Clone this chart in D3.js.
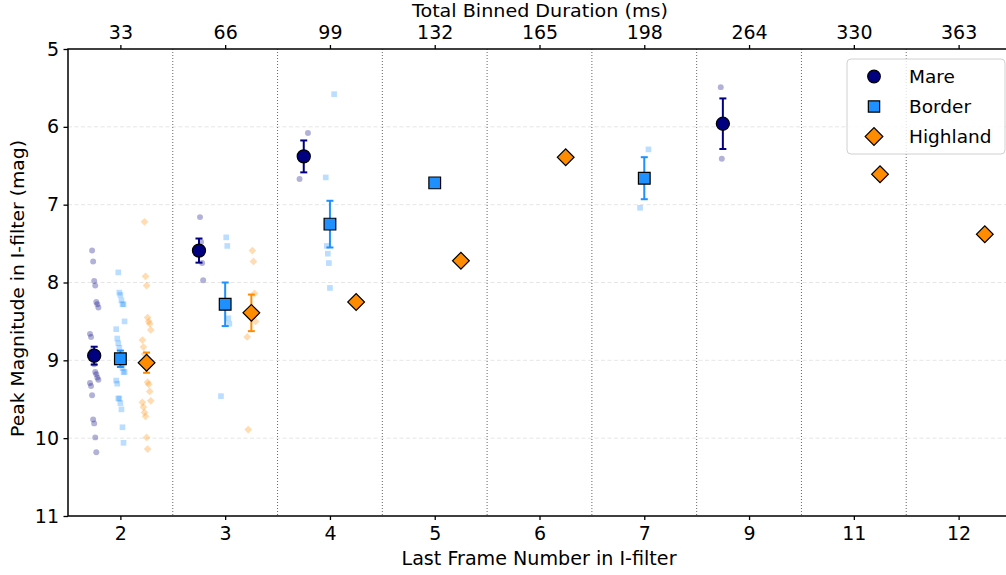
<!DOCTYPE html>
<html><head><meta charset="utf-8">
<script src="https://cdn.jsdelivr.net/npm/d3@7"></script>
<style>body{margin:0;background:#fff}svg{display:block}text{font-family:"DejaVu Sans",sans-serif}</style>
</head><body>
<svg id="c" width="1006" height="575"></svg>
<script>
const categories = ["2","3","4","5","6","7","9","11","12"];
const topLabels = ["33","66","99","132","165","198","264","330","363"];
const yTicks = [5,6,7,8,9,10,11];

const mareMean = [8.94, 7.59, 6.38, null, null, null, 5.96, null, null];
const mareErr  = [0.115, 0.155, 0.205, null, null, null, 0.325, null, null];
const borderMean = [8.98, 8.28, 7.25, 6.72, null, 6.66, null, null, null];
const borderErr  = [0.105, 0.28, 0.30, 0, null, 0.27, null, null, null];
const highlandMean = [9.03, 8.39, 8.25, 7.72, 6.39, null, null, 6.61, 7.38];
const highlandErr  = [0.13, 0.235, 0, 0, 0, null, null, 0, 0];

const mareObs = [
  [7.59,7.73,7.98,8.04,8.25,8.28,8.32,8.66,8.70,8.88,8.95,9.05,9.15,9.18,9.22,9.25,9.29,9.33,9.45,9.76,9.81,9.99,10.18],
  [7.16,7.48,7.75,7.97],
  [6.08,6.67],
  [],[],[],
  [5.49,6.41],
  [],[]
];
const borderObs = [
  [7.87,8.13,8.16,8.23,8.28,8.28,8.50,8.60,8.72,8.78,8.84,8.95,9.05,9.10,9.15,9.15,9.26,9.30,9.49,9.49,9.55,9.63,9.86,10.06],
  [7.42,7.53,8.46,8.53,9.46],
  [5.58,6.65,7.53,7.63,7.75,8.07],
  [6.72],[],
  [6.29,7.04],
  [],[],[]
];
const highlandObs = [
  [7.22,7.92,8.04,8.45,8.50,8.53,8.61,8.74,8.83,8.92,9.00,9.10,9.28,9.31,9.40,9.52,9.54,9.60,9.67,9.72,9.99,10.14],
  [7.59,7.73,8.14,8.50,8.70,9.89],
  [8.25],[7.72],[6.39],[],[],[6.61],[7.38]
];

const svg = d3.select("#c");
const L = 68, R = 1011, T = 49, B = 516;
const x = d3.scaleLinear().domain([-0.5, 8.5]).range([L, R]);
const y = d3.scaleLinear().domain([5, 11]).range([T, B]);

// grids
const g = svg.append("g");
g.selectAll(".hg").data([6,7,8,9,10]).enter().append("line")
  .attr("x1", L).attr("x2", R).attr("y1", d=>y(d)).attr("y2", d=>y(d))
  .attr("stroke", "#e0e0e0").attr("stroke-width", 0.8).attr("stroke-dasharray", "4,2.5");
g.selectAll(".vg").data(d3.range(8)).enter().append("line")
  .attr("x1", d=>x(d+0.5)).attr("x2", d=>x(d+0.5)).attr("y1", T).attr("y2", B)
  .attr("stroke", "#666").attr("stroke-width", 1).attr("stroke-dasharray", "1,2");

const series = [
  {name:"Mare", color:"#000080", off:-0.25, mean:mareMean, err:mareErr, obs:mareObs, shape:d3.symbolCircle, size:135, osize:28, lsize:125},
  {name:"Border", color:"#1E90FF", off:0, mean:borderMean, err:borderErr, obs:borderObs, shape:d3.symbolSquare, size:137, osize:32, lsize:128},
  {name:"Highland", color:"#FF8C00", off:0.25, mean:highlandMean, err:highlandErr, obs:highlandObs, shape:d3.symbolSquare, size:140, osize:30, lsize:156}
];
function jit(i){ return (((i*37+11)%9) - 4) / 100; }

// observations
series.forEach(s=>{
  const isD = s.name==="Highland";
  s.obs.forEach((arr,ci)=>{
    arr.forEach((v,i)=>{
      const cx = x(ci + s.off + jit(i+ci*3)), cy = y(v);
      svg.append("path").attr("d", d3.symbol().type(s.shape).size(s.osize)())
        .attr("transform", `translate(${cx},${cy})` + (isD?" rotate(45)":""))
        .attr("fill", s.color).attr("opacity", 0.3);
    });
  });
});
// error bars + means
series.forEach(s=>{
  const isD = s.name==="Highland";
  s.mean.forEach((m,ci)=>{
    if (m===null) return;
    const cx = x(ci + s.off), e = s.err[ci];
    if (e>0){
      const eg = svg.append("g").attr("stroke", s.color).attr("stroke-width", 2);
      eg.append("line").attr("x1",cx).attr("x2",cx).attr("y1",y(m-e)).attr("y2",y(m+e));
      eg.append("line").attr("x1",cx-3.5).attr("x2",cx+3.5).attr("y1",y(m-e)).attr("y2",y(m-e));
      eg.append("line").attr("x1",cx-3.5).attr("x2",cx+3.5).attr("y1",y(m+e)).attr("y2",y(m+e));
    }
    svg.append("path").attr("d", d3.symbol().type(s.shape).size(s.size)())
      .attr("transform", `translate(${cx},${y(m)})` + (isD?" rotate(45)":""))
      .attr("fill", s.color).attr("stroke", "#000").attr("stroke-width", 1.2);
  });
});

// axes
const axBottom = d3.axisBottom(x).tickValues(d3.range(9)).tickFormat(i=>categories[i]).tickSize(4).tickPadding(6.5);
const axTop = d3.axisTop(x).tickValues(d3.range(9)).tickFormat(i=>topLabels[i]).tickSize(4).tickPadding(6.5);
const axLeft = d3.axisLeft(y).tickValues(yTicks).tickFormat(d3.format("d")).tickSize(4.5).tickPadding(4.5);
function style(sel){
  sel.select(".domain").remove();
  sel.selectAll(".tick line").attr("stroke","#000").attr("stroke-width",1.3);
  sel.selectAll(".tick text").attr("font-size",19).attr("fill","#000").attr("font-family","DejaVu Sans");
}
svg.append("g").attr("transform",`translate(0,${B})`).call(axBottom).call(style);
svg.append("g").attr("transform",`translate(0,${T})`).call(axTop).call(style);
svg.append("g").attr("transform",`translate(${L},0)`).call(axLeft).call(style);
// spines
svg.append("rect").attr("x",L).attr("y",T).attr("width",R-L).attr("height",B-T)
  .attr("fill","none").attr("stroke","#000").attr("stroke-width",1.5);

// labels
svg.append("text").attr("x",539).attr("y",565).attr("text-anchor","middle").attr("font-size",20)
  .attr("textLength",275).attr("lengthAdjust","spacingAndGlyphs").text("Last Frame Number in I-filter");
svg.append("text").attr("x",540).attr("y",16.8).attr("text-anchor","middle").attr("font-size",18)
  .attr("textLength",256).attr("lengthAdjust","spacingAndGlyphs").text("Total Binned Duration (ms)");
svg.append("text").attr("transform","translate(23.5,288.5) rotate(-90)").attr("text-anchor","middle").attr("font-size",18)
  .attr("textLength",297).attr("lengthAdjust","spacingAndGlyphs").text("Peak Magnitude in I-filter (mag)");

// legend
const lg = svg.append("g").attr("transform","translate(847,59)");
lg.append("rect").attr("width",158).attr("height",95).attr("rx",4).attr("fill","#fff").attr("fill-opacity",0.8)
  .attr("stroke","#d0d0d0").attr("stroke-width",1);
series.forEach((s,i)=>{
  const cy = 17.5 + i*30;
  const isD = s.name==="Highland";
  lg.append("path").attr("d", d3.symbol().type(s.shape).size(s.lsize)())
    .attr("transform", `translate(27,${cy})` + (isD?" rotate(45)":""))
    .attr("fill", s.color).attr("stroke","#000").attr("stroke-width",1.2);
  lg.append("text").attr("x",62).attr("y",cy+6.5).attr("font-size",18.5).text(s.name);
});
</script>
</body></html>
